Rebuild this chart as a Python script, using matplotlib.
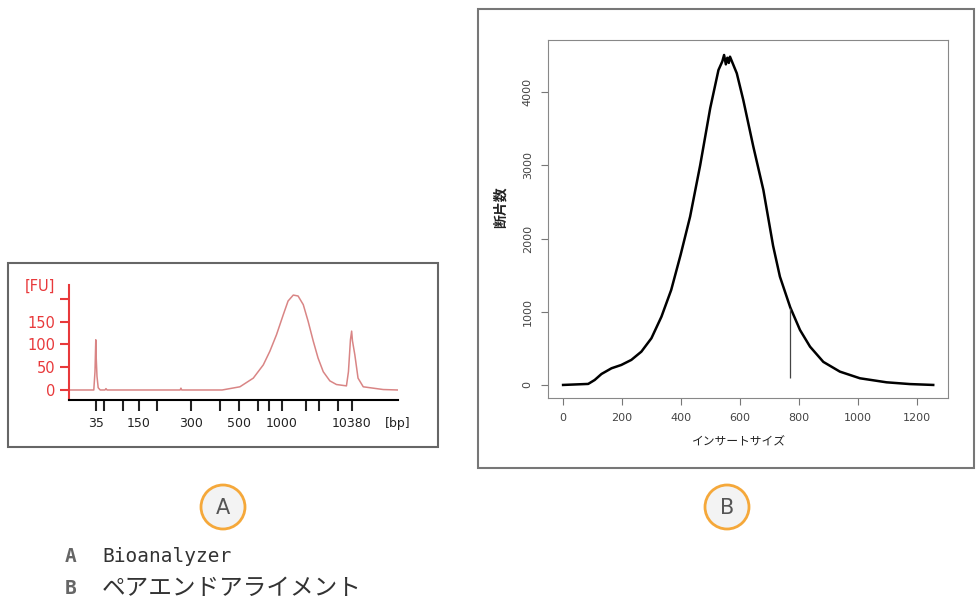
import matplotlib.pyplot as plt
from matplotlib.patches import Rectangle, Circle

plt.rcParams['font.family'] = ['DejaVu Sans', 'Noto Sans CJK JP']

# Panel A: Bioanalyzer trace (migration time vs fluorescence)
ladder_bp = [35, 50, 100, 150, 200, 300, 400, 500, 600, 700, 1000, 2000, 3000, 7000, 10380]
ladder_time = [46.7, 48.75, 53.5, 57.5, 62.0, 70.5, 77.75, 82.5, 87.25, 90.0, 93.25,
               99.25, 102.5, 107.25, 110.75]
labeled_bp = [35, 150, 300, 500, 1000, 10380]

trace_time = [40, 46.2, 46.5, 46.7, 46.8, 47.0, 47.3, 47.8, 49.0, 49.25, 49.5, 67.8, 68.0,
              68.2, 78.3, 82.75, 86.1, 88.6, 90.25, 91.9, 93.6, 94.8, 96.1, 97.3, 98.6,
              99.8, 101.1, 102.3, 103.6, 105.25, 106.9, 109.4, 109.9, 110.4, 110.7, 110.9,
              111.5, 112.3, 113.6, 116.1, 118.6, 122.3]
trace_fu = [0, 0, 40, 110, 72, 30, 5, 0, 0, 3, 0, 0, 4, 0, 0, 7, 26, 55, 85, 121, 165,
            195, 208, 206, 187, 151, 107, 70, 40, 20, 12, 9, 40, 110, 129, 108, 77, 26,
            7, 4, 1, 0]
fu_ticks = [0, 50, 100, 150, 200]

# Panel B: paired-end insert size distribution
insert_size = [1, 86, 108, 131, 165, 198, 232, 266, 300, 334, 367, 399, 431, 465, 499,
               527, 540, 546, 552, 557, 562, 566, 589, 611, 645, 679, 712, 735, 770, 803,
               837, 882, 938, 1006, 1096, 1175, 1254]
fragments = [0, 14, 68, 150, 228, 273, 342, 455, 638, 933, 1298, 1780, 2300, 3000, 3780,
             4303, 4420, 4508, 4380, 4470, 4400, 4485, 4258, 3893, 3256, 2664, 1900, 1480,
             1060, 751, 523, 315, 182, 91, 36, 12, 0]
marker_x = 770
marker_lo, marker_hi = 100, 1050

fig = plt.figure(figsize=(9.76, 6.04), dpi=100)

# ---- panel A ----
red = '#e8393b'
axA = fig.add_axes([0.0707, 0.3377, 0.3371, 0.1904])
axA.plot(trace_time, trace_fu, color='#d98585', lw=1.1)
axA.set_xlim(40, 122.3)
axA.set_ylim(-22, 230)
axA.spines['top'].set_visible(False)
axA.spines['right'].set_visible(False)
axA.spines['left'].set_color(red)
axA.spines['left'].set_linewidth(1.5)
axA.spines['bottom'].set_linewidth(1.5)
axA.set_yticks(fu_ticks)
axA.set_yticklabels([str(v) if v < 200 else '' for v in fu_ticks])
axA.tick_params(axis='y', colors=red, labelcolor=red, length=6.5, width=1.5,
                labelsize=10.5, pad=3)
axA.set_xticks(ladder_time)
axA.set_xticklabels([str(b) if b in labeled_bp else '' for b in ladder_bp])
axA.tick_params(axis='x', length=8, width=1.5, labelsize=9, pad=4, colors='#222')
axA.text(-0.088, 0.985, '[FU]', transform=axA.transAxes, color=red, fontsize=10.5,
         ha='center', va='center')
axA.text(1.0, -0.2, '[bp]', transform=axA.transAxes, color='#222', fontsize=9,
         ha='center', va='center')

# ---- panel B ----
axB = fig.add_axes([0.5615, 0.3411, 0.4098, 0.5927])
axB.plot(insert_size, fragments, color='black', lw=1.8)
axB.vlines(marker_x, marker_lo, marker_hi, color='#444', lw=0.9)
axB.set_xlim(-50, 1304)
axB.set_ylim(-178, 4713)
for s in axB.spines.values():
    s.set_color('#888')
axB.set_xticks(range(0, 1201, 200))
axB.set_yticks(range(0, 4001, 1000))
axB.tick_params(axis='both', colors='#777', labelcolor='#444', labelsize=8, length=5,
                pad=6)
for lab in axB.get_yticklabels():
    lab.set_rotation(90)
    lab.set_va('center')
axB.set_xlabel('インサートサイズ', fontsize=8.5, color='#222')
axB.xaxis.set_label_coords(0.4775, -0.105)
axB.set_ylabel('断片数', fontsize=10, color='#222', fontweight='bold')
axB.yaxis.set_label_coords(-0.10, 0.534)

# ---- frames, badges and legend ----
ov = fig.add_axes([0, 0, 1, 1], zorder=-1)
ov.set_xlim(0, 976)
ov.set_ylim(604, 0)
ov.axis('off')
ov.add_patch(Rectangle((8, 263), 430, 184, fill=False, ec='#666', lw=1.5))
ov.add_patch(Rectangle((478, 9), 496, 459, fill=False, ec='#777', lw=1.5))
for cx, letter in [(223, 'A'), (727, 'B')]:
    ov.add_patch(Circle((cx, 507), 22, fc='#f3f3f3', ec='#f5a83a', lw=2))
    ov.text(cx, 508, letter, fontsize=15, color='#555', ha='center', va='center')

ov.text(65, 557, 'A', fontsize=14, family='DejaVu Sans Mono', fontweight='bold',
        color='#666', va='center')
ov.text(102, 557, 'Bioanalyzer', fontsize=14, family='DejaVu Sans Mono', color='#333',
        va='center')
ov.text(65, 588, 'B', fontsize=14, family='DejaVu Sans Mono', fontweight='bold',
        color='#666', va='center')
ov.text(102, 588, 'ペアエンドアライメント', fontsize=17, family='Noto Sans CJK JP',
        color='#333', va='center')

fig.savefig('out.png', dpi=100)
